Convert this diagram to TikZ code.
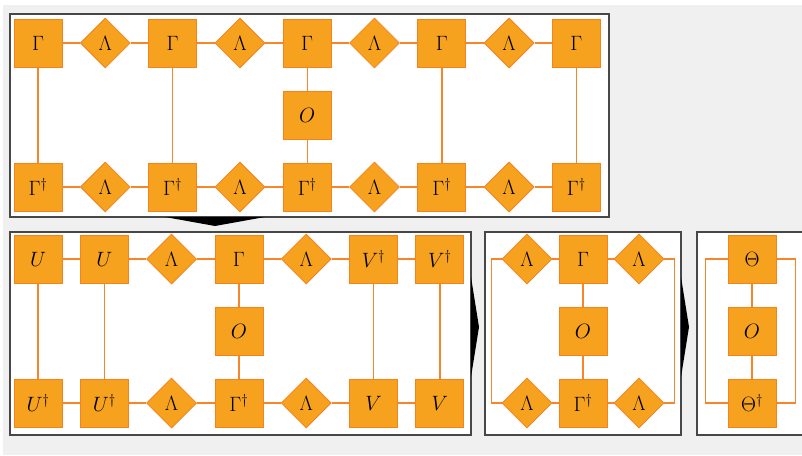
\documentclass[tikz,border=0pt]{standalone}
\usepackage{amsmath, amssymb}
\usepackage{tikz}
\usetikzlibrary{shapes.geometric, positioning, backgrounds}
\definecolor{naranja}{HTML}{F6A21F}
\definecolor{naranjaborde}{HTML}{F5821F}
\definecolor{naranjalinea}{HTML}{F7862A}
\definecolor{grismarco}{HTML}{474747}
\definecolor{grisfondo}{HTML}{F0F0F0}

\begin{document}
\begin{tikzpicture}[
  x=1pt, y=-1pt,
  node distance=23.2pt and 17.5pt,
  tens/.style={
    rectangle, draw=naranjaborde, fill=naranja,
    line width=0.8pt, inner sep=0pt,
    minimum size=48pt, font=\huge
  },
  diag/.style={
    diamond, draw=naranjaborde, fill=naranja,
    line width=0.8pt, inner sep=0pt,
    minimum size=50pt, font=\huge
  },
  leg/.style={naranjalinea, line width=1.4pt},
  marco/.style={draw=grismarco, fill=white, line width=1.6pt},
  flecha/.style={fill=black}
]
  \useasboundingbox (0,0) rectangle (802,455);

  % red completa
  \node[tens] (t1) at (38,43) {$\Gamma$};
  \node[diag, right=of t1] (td1) {$\Lambda$};
  \node[tens, right=of td1] (t2) {$\Gamma$};
  \node[diag, right=of t2] (td2) {$\Lambda$};
  \node[tens, right=of td2] (t3) {$\Gamma$};
  \node[diag, right=of t3] (td3) {$\Lambda$};
  \node[tens, right=of td3] (t4) {$\Gamma$};
  \node[diag, right=of t4] (td4) {$\Lambda$};
  \node[tens, right=of td4] (t5) {$\Gamma$};
  \node[tens, below=of t3] (o1) {$O$};
  \node[tens, below=of o1] (b3) {$\Gamma^\dagger$};
  \node[diag, left=of b3] (bd2) {$\Lambda$};
  \node[tens, left=of bd2] (b2) {$\Gamma^\dagger$};
  \node[diag, left=of b2] (bd1) {$\Lambda$};
  \node[tens, left=of bd1] (b1) {$\Gamma^\dagger$};
  \node[diag, right=of b3] (bd3) {$\Lambda$};
  \node[tens, right=of bd3] (b4) {$\Gamma^\dagger$};
  \node[diag, right=of b4] (bd4) {$\Lambda$};
  \node[tens, right=of bd4] (b5) {$\Gamma^\dagger$};

  % forma con unitarias
  \node[tens] (u1) at (38,259) {$U$};
  \node[tens, right=of u1] (u2) {$U$};
  \node[diag, right=of u2] (ld1) {$\Lambda$};
  \node[tens, right=of ld1] (g) {$\Gamma$};
  \node[diag, right=of g] (ld2) {$\Lambda$};
  \node[tens, right=of ld2] (v1) {$V^\dagger$};
  \node[tens, right=of v1] (v2) {$V^\dagger$};
  \node[tens, below=of g] (o2) {$O$};
  \node[tens, below=of o2] (gd) {$\Gamma^\dagger$};
  \node[diag, left=of gd] (lb1) {$\Lambda$};
  \node[tens, left=of lb1] (ud2) {$U^\dagger$};
  \node[tens, left=of ud2] (ud1) {$U^\dagger$};
  \node[diag, right=of gd] (lb2) {$\Lambda$};
  \node[tens, right=of lb2] (w1) {$V$};
  \node[tens, right=of w1] (w2) {$V$};

  % forma reducida
  \node[tens] (mg) at (583,259) {$\Gamma$};
  \node[diag, left=6.2pt of mg] (ml1) {$\Lambda$};
  \node[diag, right=6.2pt of mg] (mr1) {$\Lambda$};
  \node[tens, below=of mg] (mo) {$O$};
  \node[tens, below=of mo] (mgd) {$\Gamma^\dagger$};
  \node[diag, left=6.2pt of mgd] (ml2) {$\Lambda$};
  \node[diag, right=6.2pt of mgd] (mr2) {$\Lambda$};

  % centro
  \node[tens] (th) at (752,259) {$\Theta$};
  \node[tens, below=of th] (tho) {$O$};
  \node[tens, below=of tho] (thd) {$\Theta^\dagger$};

  \begin{scope}[on background layer]
    \fill[grisfondo] (3,5) rectangle (802,455);
    \draw[marco] (10,14) rectangle (609,217);
    \draw[marco] (10,232) rectangle (471,435);
    \draw[marco] (485,232) rectangle (681,435);
    \fill[white] (697,232) rectangle (803,435);
    \draw[grismarco, line width=1.6pt] (803,232) -- (697,232) -- (697,435) -- (803,435);

    \fill[flecha] (165,217) -- (265,217) -- (215,226) -- cycle;
    \fill[flecha] (471,277) -- (479,327) -- (471,377) -- cycle;
    \fill[flecha] (681,277) -- (689,327) -- (681,377) -- cycle;

    \foreach \a/\b in {t1/td1,td1/t2,t2/td2,td2/t3,t3/td3,td3/t4,t4/td4,td4/t5,
                       b1/bd1,bd1/b2,b2/bd2,bd2/b3,b3/bd3,bd3/b4,b4/bd4,bd4/b5,
                       t1/b1,t2/b2,t3/o1,o1/b3,t4/b4,t5/b5,
                       u1/u2,u2/ld1,ld1/g,g/ld2,ld2/v1,v1/v2,
                       ud1/ud2,ud2/lb1,lb1/gd,gd/lb2,lb2/w1,w1/w2,
                       u1/ud1,u2/ud2,g/o2,o2/gd,v1/w1,v2/w2,
                       ml1/mg,mg/mr1,ml2/mgd,mgd/mr2,mg/mo,mo/mgd,
                       th/tho,tho/thd}
      \draw[leg] (\a)--(\b);
    \draw[leg] (ml1.west) -- ++(-10,0) |- (ml2.west);
    \draw[leg] (mr1.east) -- ++(10,0) |- (mr2.east);
    \draw[leg] (th.west) -- ++(-22,0) |- (thd.west);
    \draw[leg] (th.east) -- ++(19,0) |- (thd.east);
  \end{scope}
\end{tikzpicture}
\end{document}
